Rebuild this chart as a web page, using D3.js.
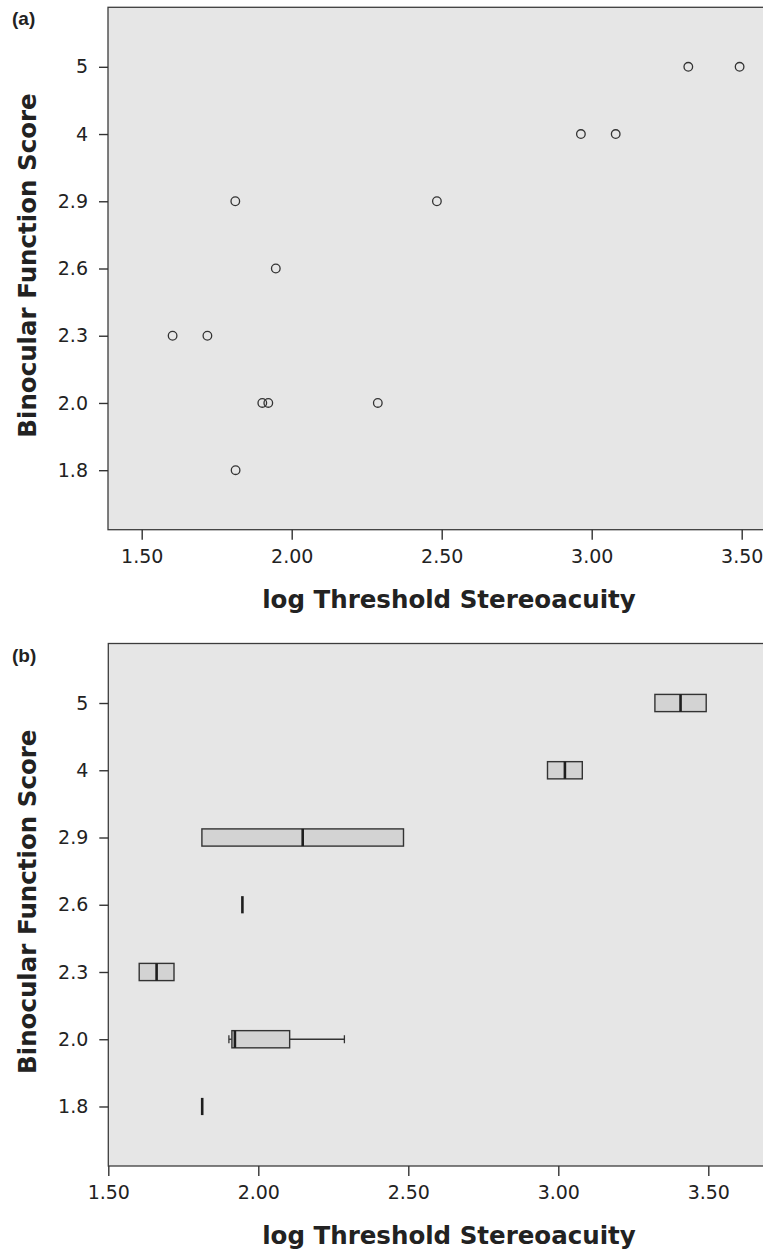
<!DOCTYPE html>
<html><head><meta charset="utf-8">
<script src="https://cdn.jsdelivr.net/npm/d3@7"></script>
<style>body{margin:0;background:#fff}</style>
</head><body>
<svg id="c" width="763" height="1257"></svg>
<script>
// ---- data ----
const categories = ["5","4","2.9","2.6","2.3","2.0","1.8"];
const xTicks = [1.5, 2.0, 2.5, 3.0, 3.5];
const pointCat = ["5","5","4","4","2.9","2.9","2.6","2.3","2.3","2.0","2.0","2.0","1.8"];
const pointX   = [3.322,3.493,2.964,3.080,1.812,2.484,1.947,1.603,1.719,1.902,1.922,2.287,1.813];
const panelLabels = ["(a)", "(b)"];
const xTitle = "log Threshold Stereoacuity";
const yTitle = "Binocular Function Score";

// ---- layout ----
const W = 763;
const panels = [
  {label: panelLabels[0], top: 7.3, bottom: 529.7, left: 108, x15: 141.7, x35: 741.7, type: "scatter"},
  {label: panelLabels[1], top: 643.5, bottom: 1166, left: 108.3, x15: 108.3, x35: 708.3, type: "box"}
];
const svg = d3.select("#c");
const tickFont = "'DejaVu Sans', sans-serif";
const titleFont = "'DejaVu Sans', sans-serif";
const ink = "#333";

function median(a){ const n=a.length; return n%2 ? a[(n-1)/2] : (a[n/2-1]+a[n/2])/2; }
function tukey(vals){
  const s = vals.slice().sort(d3.ascending); const n = s.length;
  const med = median(s);
  const half = Math.ceil(n/2);
  const lo = median(s.slice(0, half)), hi = median(s.slice(n-half));
  const iqr = hi - lo;
  const wl = d3.min(s.filter(v => v >= lo - 1.5*iqr));
  const wh = d3.max(s.filter(v => v <= hi + 1.5*iqr));
  return {lo, med, hi, wl, wh, n};
}

panels.forEach(p => {
  const g = svg.append("g");
  const x = d3.scaleLinear().domain([1.5, 3.5]).range([p.x15, p.x35]);
  const y = d3.scalePoint().domain(categories).range([p.top, p.bottom]).padding(0.885);

  // plot background + frame
  g.append("rect").attr("x", p.left).attr("y", p.top)
    .attr("width", W + 20 - p.left).attr("height", p.bottom - p.top)
    .attr("fill", "#e6e6e6").attr("stroke", "#3c3c3c").attr("stroke-width", 1.3);

  // x axis
  const xa = g.append("g").attr("transform", `translate(0,${p.bottom})`)
    .call(d3.axisBottom(x).tickValues(xTicks).tickFormat(d3.format(".2f")).tickSize(10).tickPadding(10));
  xa.select(".domain").remove();
  xa.selectAll("line").attr("stroke", ink).attr("stroke-width", 1.4);
  xa.selectAll("text").attr("font-family", tickFont).attr("font-size", 19).attr("fill", "#222");

  // y axis
  const ya = g.append("g").attr("transform", `translate(${p.left},0)`)
    .call(d3.axisLeft(y).tickSize(9).tickPadding(11));
  ya.select(".domain").remove();
  ya.selectAll("line").attr("stroke", ink).attr("stroke-width", 1.4);
  ya.selectAll("text").attr("font-family", tickFont).attr("font-size", 19).attr("fill", "#222");

  // titles
  g.append("text").attr("x", 449).attr("y", p.bottom + 78)
    .attr("text-anchor", "middle").attr("font-family", titleFont).attr("font-weight", "bold")
    .attr("font-size", 24.5).attr("fill", "#222").text(xTitle);
  g.append("text").attr("transform", `translate(36,${(p.top + p.bottom)/2 - 3}) rotate(-90)`)
    .attr("text-anchor", "middle").attr("font-family", titleFont).attr("font-weight", "bold")
    .attr("font-size", 24.5).attr("fill", "#222").text(yTitle);
  g.append("text").attr("x", 12).attr("y", p.top + 18)
    .attr("font-family", "'Liberation Sans', Arial, sans-serif").attr("font-weight", "bold")
    .attr("font-size", 19).attr("fill", "#222").text(p.label);

  if (p.type === "scatter") {
    g.selectAll("circle.pt").data(pointX.map((v,i) => ({v, c: pointCat[i]})))
      .join("circle").attr("class", "pt")
      .attr("cx", d => x(d.v)).attr("cy", d => y(d.c)).attr("r", 4.3)
      .attr("fill", "none").attr("stroke", ink).attr("stroke-width", 1.3);
  } else {
    const hh = 8.6, ch = 4;
    categories.forEach(c => {
      const vals = pointX.filter((v,i) => pointCat[i] === c);
      const s = tukey(vals);
      const cy = y(c);
      if (s.wl < s.lo) {
        g.append("line").attr("x1", x(s.wl)).attr("x2", x(s.lo)).attr("y1", cy).attr("y2", cy)
          .attr("stroke", ink).attr("stroke-width", 1.3);
        g.append("line").attr("x1", x(s.wl)).attr("x2", x(s.wl)).attr("y1", cy-ch).attr("y2", cy+ch)
          .attr("stroke", ink).attr("stroke-width", 1.3);
      }
      if (s.wh > s.hi) {
        g.append("line").attr("x1", x(s.hi)).attr("x2", x(s.wh)).attr("y1", cy).attr("y2", cy)
          .attr("stroke", ink).attr("stroke-width", 1.3);
        g.append("line").attr("x1", x(s.wh)).attr("x2", x(s.wh)).attr("y1", cy-ch).attr("y2", cy+ch)
          .attr("stroke", ink).attr("stroke-width", 1.3);
      }
      if (s.hi > s.lo) {
        g.append("rect").attr("x", x(s.lo)).attr("y", cy - hh)
          .attr("width", x(s.hi) - x(s.lo)).attr("height", 2*hh)
          .attr("fill", "#d3d3d3").attr("stroke", ink).attr("stroke-width", 1.4);
      }
      g.append("line").attr("x1", x(s.med)).attr("x2", x(s.med)).attr("y1", cy-hh).attr("y2", cy+hh)
        .attr("stroke", "#1e1e1e").attr("stroke-width", 2.6);
    });
  }
});
</script>
</body></html>
